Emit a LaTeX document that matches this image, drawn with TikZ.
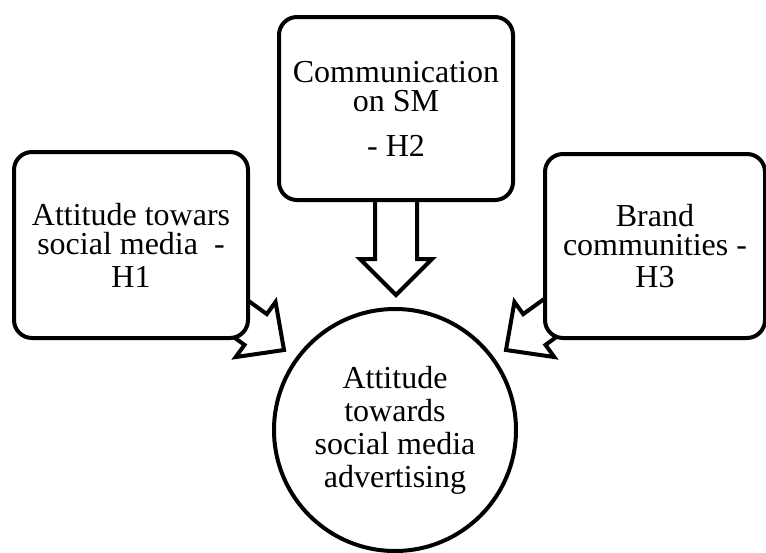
\documentclass[tikz,border=0pt]{standalone}
\usepackage{fontspec}
\setmainfont{Liberation Serif}
\usetikzlibrary{calc}
\pgfdeclarelayer{background}
\pgfsetlayers{background,main}
\tikzset{
  stroke/.style={line width=4pt, line join=miter, draw=black},
  boxnode/.style={stroke, fill=white, rounded corners=18pt, align=center, inner sep=0pt},
  circnode/.style={stroke, fill=white, circle, align=center, inner sep=0pt, minimum size=242pt},
  arrowstyle/.style={stroke, fill=white},
  txt/.style={font=\fontsize{32}{29}\selectfont}
}
\newcommand\blockarrow[5]{% start, tip, shaft half width, head half width, head length
  \coordinate (bah) at ($(#2)!#5!(#1)$);
  \draw[arrowstyle] ($(#1)!#3!90:(#2)$) -- ($(bah)!#3!90:(#2)$) -- ($(bah)!#4!90:(#2)$)
    -- (#2) -- ($(bah)!#4!-90:(#2)$) -- ($(bah)!#3!-90:(#2)$) -- ($(#1)!#3!-90:(#2)$) -- cycle;
}
\begin{document}
\begin{tikzpicture}[x=1pt,y=-1pt]
\useasboundingbox (0,0) rectangle (766,552);
% boxes
\node[boxnode, txt, minimum width=234pt, minimum height=183pt] (tbox) at (396,108.5)
  {Communication\\on SM\\[16pt]- H2};
\node[boxnode, txt, minimum width=234pt, minimum height=186pt] (lbox) at (131,245)
  {Attitude towars\\social media\ \ -\\[4pt]H1};
\node[boxnode, txt, minimum width=220pt, minimum height=184pt] (rbox) at (655,246)
  {Brand\\communities -\\[3pt]H3};
\node[circnode, font=\fontsize{32}{33}\selectfont] (circ) at (395,430)
  {Attitude\\towards\\social media\\advertising};
% arrow ends
\coordinate (tstart) at ($(tbox.center)+(0,80)$);
\coordinate (ttip) at (396,295);
\coordinate (lstart) at ($(lbox.center)+(88,58)$);
\coordinate (ltip) at (284,350);
\coordinate (rstart) at ($(rbox.center)+(-84,57)$);
\coordinate (rtip) at (506,350);
\begin{pgfonlayer}{background}
  \blockarrow{tstart}{ttip}{21pt}{36pt}{36pt}
  \blockarrow{lstart}{ltip}{19pt}{34pt}{35pt}
  \blockarrow{rstart}{rtip}{19pt}{34pt}{35pt}
\end{pgfonlayer}
\end{tikzpicture}
\end{document}
